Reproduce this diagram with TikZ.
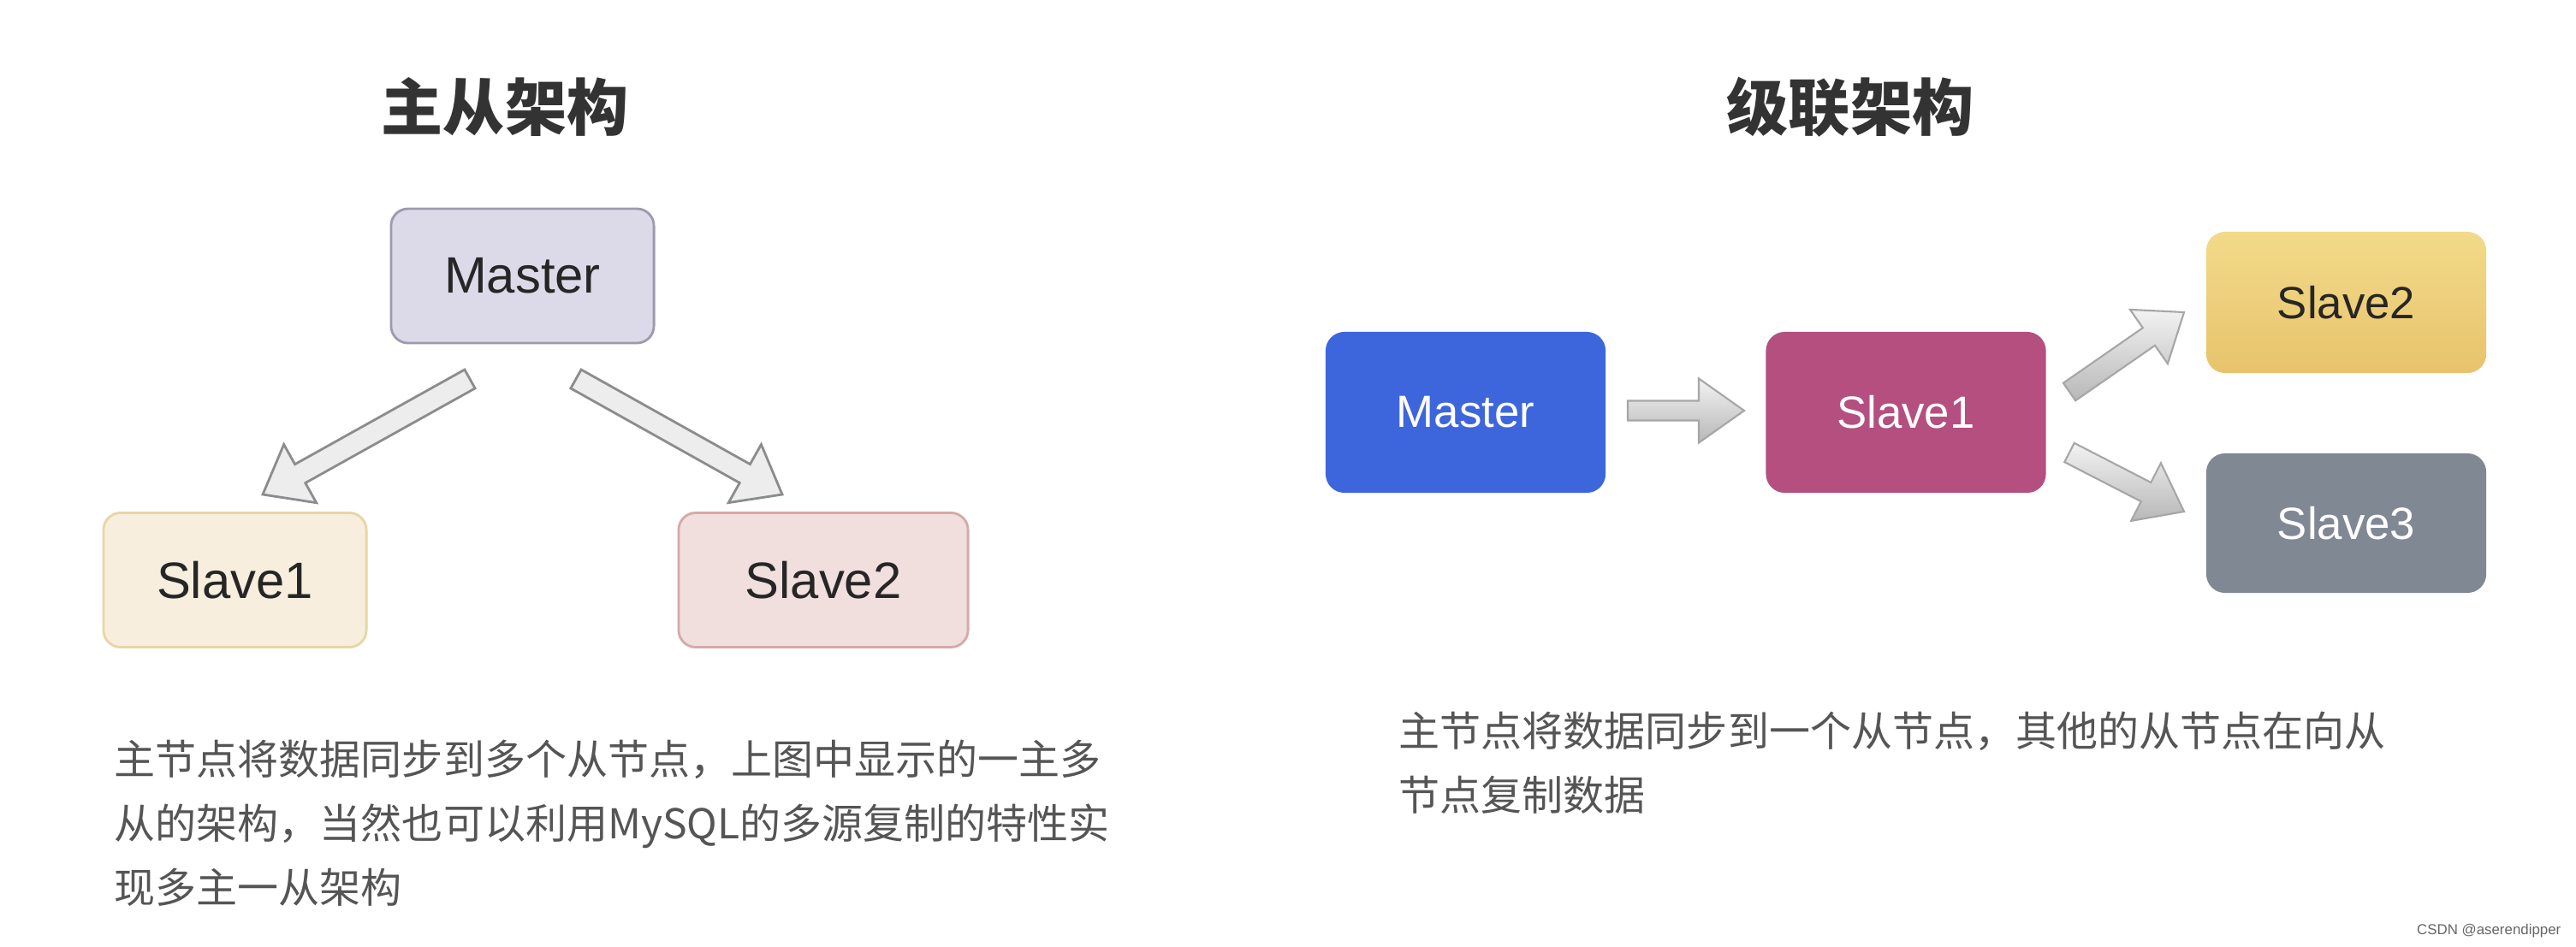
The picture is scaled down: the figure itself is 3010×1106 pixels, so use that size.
\documentclass[tikz,border=0pt]{standalone}
\usepackage{fontspec}
\setmainfont{Liberation Sans}
\newfontfamily\cjk{Noto Sans CJK SC}
\usetikzlibrary{calc}
\definecolor{lmfill}{HTML}{DCDAE8}
\definecolor{lmdraw}{HTML}{9C9AAE}
\definecolor{lsafill}{HTML}{F8EEDD}
\definecolor{lsadraw}{HTML}{E6D6A6}
\definecolor{lsbfill}{HTML}{F1DFDE}
\definecolor{lsbdraw}{HTML}{D6A9A8}
\definecolor{rmfill}{HTML}{3E66DC}
\definecolor{rsafill}{HTML}{B44F80}
\definecolor{rsbtop}{HTML}{F2DA8A}
\definecolor{rsbbot}{HTML}{E8C36C}
\definecolor{rscfill}{HTML}{808894}
\definecolor{titlecol}{HTML}{333333}
\definecolor{bodycol}{HTML}{555555}
\newcommand\blockarrow[6]{%
  \path[#6] ($(#1)!#3!90:(#2)$)
    -- ($($(#2)!#5!(#1)$)!#3!90:(#2)$)
    -- ($($(#2)!#5!(#1)$)!#4!90:(#2)$)
    -- (#2)
    -- ($($(#2)!#5!(#1)$)!#4!-90:(#2)$)
    -- ($($(#2)!#5!(#1)$)!#3!-90:(#2)$)
    -- ($(#1)!#3!-90:(#2)$) -- cycle;}
\begin{document}
\begin{tikzpicture}[x=0.01cm,y=0.01cm,
  lbox/.style={rounded corners=0.2cm, inner sep=0pt, line width=0.8pt,
     minimum height=1.57cm, font=\fontsize{17pt}{20pt}\selectfont, text=black!85},
  rbox/.style={rounded corners=0.22cm, inner sep=0pt, minimum width=3.27cm,
     font=\fontsize{15pt}{18pt}\selectfont},
  titletext/.style={font=\cjk\bfseries\fontsize{20.5pt}{24pt}\selectfont, text=titlecol, inner sep=0pt},
  bodytext/.style={font=\cjk\fontsize{13.66pt}{21.4pt}\selectfont, text=bodycol, inner sep=0pt, align=left, anchor=north west},
  larrow/.style={draw=black!45, fill=black!7, line width=0.8pt, line join=miter},
  rarrow/.style={draw=black!35, top color=black!5, bottom color=black!28, line width=0.6pt}]
\useasboundingbox (0,0) rectangle (3010,-1106);
\fill[white] (0,0) rectangle (3010,-1106);

% titles
\node[titletext] (t1) at (590,-125) {主从架构};
\node[titletext] (t2) at (2162,-125) {级联架构};

% left diagram
\node[lbox, minimum width=3.07cm, fill=lmfill, draw=lmdraw] (lm) at (610.5,-322.5) {Master};
\node[lbox, minimum width=3.07cm, fill=lsafill, draw=lsadraw] (ls1) at (274.5,-678) {Slave1};
\node[lbox, minimum width=3.38cm, fill=lsbfill, draw=lsbdraw] (ls2) at (962,-678) {Slave2};
\coordinate (a1t) at (549,-443);
\coordinate (a1h) at (307,-578);
\coordinate (a2t) at (673,-443);
\coordinate (a2h) at (914,-578);
\blockarrow{a1t}{a1h}{0.125cm}{0.39cm}{0.5cm}{larrow}
\blockarrow{a2t}{a2h}{0.125cm}{0.39cm}{0.5cm}{larrow}

% right diagram
\node[rbox, minimum height=1.88cm, fill=rmfill, text=white] (rm) at (1712.5,-482) {Master};
\node[rbox, minimum height=1.88cm, fill=rsafill, text=white] (rs1) at (2227,-482) {Slave1};
\node[rbox, minimum height=1.65cm, top color=rsbtop, bottom color=rsbbot, text=black!85] (rs2) at (2741.5,-353.5) {Slave2};
\node[rbox, minimum height=1.63cm, fill=rscfill, text=white] (rs3) at (2741.5,-611.5) {Slave3};
\coordinate (b1t) at (1902,-480);
\coordinate (b1h) at (2038,-480);
\coordinate (b2t) at (2418,-458);
\coordinate (b2h) at (2552,-365);
\coordinate (b3t) at (2418,-529);
\coordinate (b3h) at (2552,-598);
\blockarrow{b1t}{b1h}{0.115cm}{0.375cm}{0.53cm}{rarrow}
\blockarrow{b2t}{b2h}{0.125cm}{0.385cm}{0.5cm}{rarrow}
\blockarrow{b3t}{b3h}{0.125cm}{0.38cm}{0.5cm}{rarrow}

% descriptions
\node[bodytext] (d1) at (133,-864) {主节点将数据同步到多个从节点，上图中显示的一主多\\从的架构，当然也可以利用MySQL的多源复制的特性实\\现多主一从架构};
\node[bodytext] (d2) at (1634,-831) {主节点将数据同步到一个从节点，其他的从节点在向从\\节点复制数据};

% watermark
\node[font=\fontsize{4.8pt}{6pt}\selectfont, text=black!60, inner sep=0pt, anchor=east] (wm) at (2993,-1088) {CSDN @aserendipper};
\end{tikzpicture}
\end{document}
